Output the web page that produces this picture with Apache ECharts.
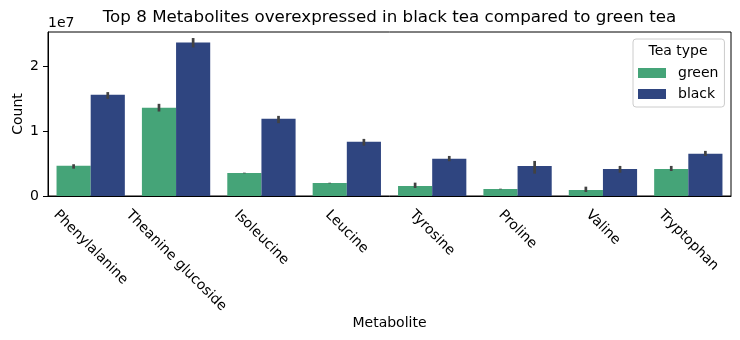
<!DOCTYPE html>
<html><head><meta charset="utf-8">
<script src="https://cdn.jsdelivr.net/npm/echarts@6/dist/echarts.min.js"></script>
<style>html,body{margin:0;padding:0;background:#fff}#c{width:740px;height:340px}</style>
</head><body><div id="c"></div><script>
const categories = ['Phenylalanine', 'Theanine glucoside', 'Isoleucine', 'Leucine', 'Tyrosine', 'Proline', 'Valine', 'Tryptophan'];
const greenValues = [4.65e6, 13.62e6, 3.55e6, 2.0e6, 1.55e6, 1.08e6, 0.93e6, 4.18e6];
const blackValues = [15.63e6, 23.68e6, 11.92e6, 8.36e6, 5.73e6, 4.64e6, 4.18e6, 6.5e6];
const greenLow  = [4.22e6, 13.03e6, 3.50e6, 1.95e6, 1.24e6, 1.03e6, 0.62e6, 3.86e6];
const greenHigh = [4.90e6, 14.22e6, 3.60e6, 2.05e6, 2.06e6, 1.13e6, 1.44e6, 4.64e6];
const blackLow  = [14.99e6, 22.92e6, 11.24e6, 7.77e6, 5.36e6, 3.45e6, 3.60e6, 6.18e6];
const blackHigh = [16.03e6, 24.37e6, 12.36e6, 8.81e6, 6.18e6, 5.41e6, 4.64e6, 6.96e6];
const yTicks = [0, 1e7, 2e7];
const seriesNames = ['green', 'black'];
const colors = ['#45a478', '#2f4580'];

const FONT = 'DejaVu Sans';
const FS = 14;
const ctx = document.createElement('canvas').getContext('2d');
ctx.font = FS + 'px "' + FONT + '"';
const labelWidths = categories.map(c => ctx.measureText(c).width);

function errRender(sign) {
  return function (params, api) {
    const x = api.value(0);
    const lo = api.coord([x, api.value(1)]);
    const hi = api.coord([x, api.value(2)]);
    const bw = api.size([1, 0])[0];
    const dx = sign * bw * 0.2;
    return { type: 'line', shape: { x1: lo[0] + dx, y1: lo[1], x2: hi[0] + dx, y2: hi[1] },
      style: { stroke: '#424242', lineWidth: 2.7 } };
  };
}

// rotated tick labels: bounding box centred under the tick (matplotlib style)
function labelRender(params, api) {
  const i = api.value(0);
  const base = api.coord([i, 0]);
  const L = labelWidths[i];
  const h = 16;
  const top = base[1] + 11;
  const cy = top + 0.3536 * (L + h);
  return { type: 'text', x: base[0], y: cy, rotation: -Math.PI / 4,
    style: { text: categories[i], fontSize: FS, fontFamily: FONT, fill: '#000', align: 'center', verticalAlign: 'middle' } };
}

const chart = echarts.init(document.getElementById('c'), null, { renderer: 'canvas' });
chart.setOption({
  animation: false,
  backgroundColor: '#fff',
  textStyle: { fontFamily: FONT },
  grid: { left: 48, right: 9, top: 32, bottom: 144, outerBoundsMode: 'none', containLabel: false,
    show: true, borderColor: '#000', borderWidth: 1, backgroundColor: 'transparent' },
  xAxis: {
    type: 'category', data: categories,
    name: 'Metabolite', nameLocation: 'middle', nameGap: 120,
    nameTextStyle: { fontSize: FS, color: '#000', fontFamily: FONT },
    axisLine: { lineStyle: { color: '#000', width: 1 } },
    axisTick: { alignWithLabel: true, length: 5, lineStyle: { color: '#000' } },
    axisLabel: { show: false, interval: 0 }
  },
  yAxis: {
    type: 'value', min: 0, max: 2.53e7, interval: 1e7,
    name: 'Count', nameLocation: 'middle', nameGap: 23, nameMoveOverlap: false,
    nameTextStyle: { fontSize: FS, color: '#000', fontFamily: FONT },
    axisLine: { show: true, lineStyle: { color: '#000', width: 1 } },
    axisTick: { show: true, length: 5, lineStyle: { color: '#000' } },
    splitLine: { show: false },
    axisLabel: { margin: 9, fontSize: FS, color: '#000', fontFamily: FONT, showMaxLabel: false,
      formatter: v => yTicks.indexOf(v) >= 0 ? String(Math.round(v / 1e7)) : '' }
  },
  legend: {
    data: seriesNames, orient: 'vertical', left: 633, top: 39,
    padding: [26, 6, 5, 5], itemGap: 5, itemWidth: 28, itemHeight: 10, icon: 'rect',
    backgroundColor: 'rgba(255,255,255,0.8)', borderColor: '#cccccc', borderWidth: 1, borderRadius: 3,
    textStyle: { fontSize: FS, color: '#000', fontFamily: FONT, lineHeight: 16, padding: [0, 0, 0, 7] }
  },
  graphic: [
    { type: 'text', x: 389.5, y: 18, style: { text: 'Top 8 Metabolites overexpressed in black tea compared to green tea', fontSize: 16.7, fontFamily: FONT, fill: '#000', align: 'center', verticalAlign: 'middle' } },
    { type: 'text', x: 48, y: 23, style: { text: '1e7', fontSize: FS, fontFamily: FONT, fill: '#000', align: 'left', verticalAlign: 'middle' } },
    { type: 'text', x: 678, y: 51, z: 100, style: { text: 'Tea type', fontSize: FS, fontFamily: FONT, fill: '#000', align: 'center', verticalAlign: 'middle' } }
  ],
  series: [
    { name: 'green', type: 'bar', data: greenValues, itemStyle: { color: colors[0] }, barGap: '0%', barCategoryGap: '20%' },
    { name: 'black', type: 'bar', data: blackValues, itemStyle: { color: colors[1] }, barGap: '0%', barCategoryGap: '20%' },
    { name: 'err-green', type: 'custom', renderItem: errRender(-1), data: categories.map((c, i) => [i, greenLow[i], greenHigh[i]]), z: 5 },
    { name: 'err-black', type: 'custom', renderItem: errRender(1), data: categories.map((c, i) => [i, blackLow[i], blackHigh[i]]), z: 5 },
    { name: 'tick-labels', type: 'custom', renderItem: labelRender, clip: false, silent: true, data: categories.map((c, i) => [i, 0]) }
  ]
});
</script></body></html>
